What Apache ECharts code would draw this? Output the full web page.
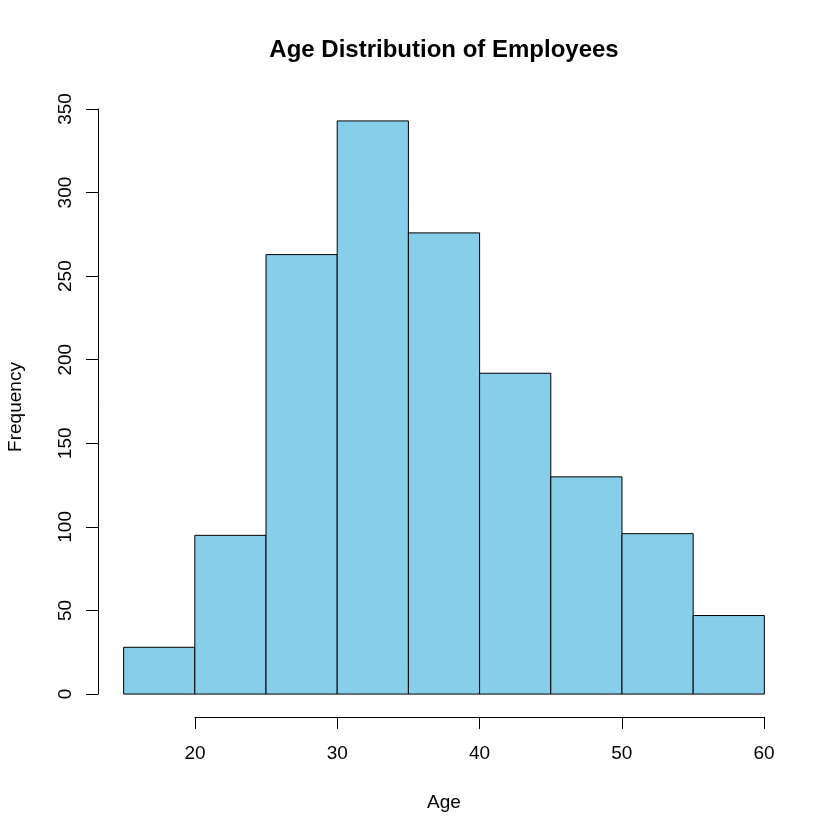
<!DOCTYPE html>
<html>
<head>
<meta charset="utf-8">
<script src="https://cdn.jsdelivr.net/npm/echarts@6/dist/echarts.min.js"></script>
<style>
  html, body { margin: 0; padding: 0; background: #fff; }
  #main { width: 840px; height: 840px; }
</style>
</head>
<body>
<div id="main"></div>
<script>
// histogram data: bin edges and counts
var breaks = [15, 20, 25, 30, 35, 40, 45, 50, 55, 60];
var counts = [28, 95, 263, 343, 276, 192, 130, 96, 47];
var xTicks = [20, 30, 40, 50, 60];
var yTicks = [0, 50, 100, 150, 200, 250, 300, 350];

var font = 'Liberation Sans, Arial, sans-serif';

var bins = [];
for (var i = 0; i < counts.length; i++) {
  bins.push([breaks[i], breaks[i + 1], counts[i]]);
}

// R pads the data range by 4% on each side
var xPad = (breaks[breaks.length - 1] - breaks[0]) * 0.04;
var yPad = Math.max.apply(null, counts) * 0.04;

var dom = document.getElementById('main');
var myChart = echarts.init(dom);

var option = {
  backgroundColor: '#fff',
  animation: false,
  graphic: [
    {
      type: 'text', x: 444, y: 50,
      style: { text: 'Age Distribution of Employees', font: 'bold 24px ' + font, fill: '#000', align: 'center', verticalAlign: 'middle' }
    },
    {
      type: 'text', x: 444, y: 803,
      style: { text: 'Age', font: '19px ' + font, fill: '#000', align: 'center', verticalAlign: 'middle' }
    },
    {
      type: 'text', x: 16, y: 407, rotation: Math.PI / 2,
      style: { text: 'Frequency', font: '19px ' + font, fill: '#000', align: 'center', verticalAlign: 'middle' }
    }
  ],
  grid: [
    { left: 98, right: 50, top: 98, bottom: 123 },   // plot region
    { left: 195, right: 76, top: 98, bottom: 123 },  // x axis
    { left: 98, right: 50, top: 109, bottom: 146 }   // y axis
  ],
  xAxis: [
    { gridIndex: 0, type: 'value', min: breaks[0] - xPad, max: breaks[breaks.length - 1] + xPad, show: false },
    {
      gridIndex: 1, type: 'value', min: xTicks[0], max: xTicks[xTicks.length - 1], interval: 10,
      position: 'bottom',
      axisLine: { show: true, lineStyle: { color: '#000', width: 1 } },
      axisTick: { show: true, length: 12, inside: false, lineStyle: { color: '#000' } },
      axisLabel: { fontFamily: font, fontSize: 19, color: '#000', margin: 27 },
      splitLine: { show: false }
    },
    { gridIndex: 2, type: 'value', show: false }
  ],
  yAxis: [
    { gridIndex: 0, type: 'value', min: -yPad, max: Math.max.apply(null, counts) + yPad, show: false },
    { gridIndex: 1, type: 'value', show: false },
    {
      gridIndex: 2, type: 'value', min: yTicks[0], max: yTicks[yTicks.length - 1], interval: 50,
      position: 'left',
      axisLine: { show: true, lineStyle: { color: '#000', width: 1 } },
      axisTick: { show: true, length: 12, inside: false, lineStyle: { color: '#000' } },
      axisLabel: { fontFamily: font, fontSize: 19, color: '#000', margin: 23, rotate: 90 },
      splitLine: { show: false }
    }
  ],
  series: [
    {
      type: 'custom',
      xAxisIndex: 0,
      yAxisIndex: 0,
      data: bins,
      renderItem: function (params, api) {
        var p0 = api.coord([api.value(0), api.value(2)]);
        var p1 = api.coord([api.value(1), 0]);
        return {
          type: 'rect',
          shape: { x: p0[0], y: p0[1], width: p1[0] - p0[0], height: p1[1] - p0[1] },
          style: { fill: '#87CEEB', stroke: '#000', lineWidth: 1 }
        };
      }
    }
  ]
};

myChart.setOption(option);
</script>
</body>
</html>
